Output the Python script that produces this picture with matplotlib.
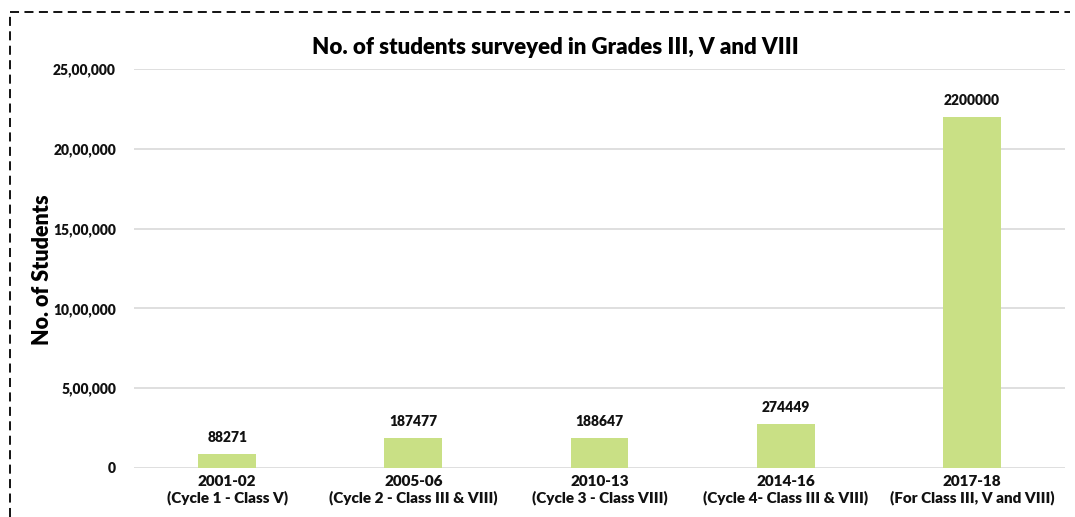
import matplotlib
matplotlib.use("Agg")
import matplotlib.pyplot as plt
from matplotlib.lines import Line2D
from matplotlib.ticker import FuncFormatter

plt.rcParams['font.family'] = ['Lato', 'DejaVu Sans']
plt.rcParams['font.weight'] = 'heavy'

# Data
periods = ["2001-02", "2005-06", "2010-13", "2014-16", "2017-18"]
cycles = ["(Cycle 1 - Class V)", "(Cycle 2 - Class III & VIII)",
          "(Cycle 3 - Class VIII)", "(Cycle 4- Class III & VIII)",
          "(For Class III, V and VIII)"]
students = [88271, 187477, 188647, 274449, 2200000]
yticks = [0, 500000, 1000000, 1500000, 2000000, 2500000]


def indian_format(v, pos=None):
    v = int(round(v))
    s = str(v)
    if len(s) <= 3:
        return s
    last3 = s[-3:]
    rest = s[:-3]
    groups = []
    while len(rest) > 2:
        groups.insert(0, rest[-2:])
        rest = rest[:-2]
    if rest:
        groups.insert(0, rest)
    return ",".join(groups + [last3])


fig = plt.figure(figsize=(10.75, 5.17), dpi=100)
ax = fig.add_axes([0.1247, 0.0948, 0.866, 0.7717])

labels = [p + "\n" + c for p, c in zip(periods, cycles)]
x = range(len(students))
bars = ax.bar(x, students, width=0.31, color="#C9E085", zorder=3)

for b, v in zip(bars, students):
    ax.annotate(str(v), (b.get_x() + b.get_width() / 2, v),
                xytext=(0, 7), textcoords="offset points",
                ha="center", va="bottom", fontsize=10, fontweight="heavy",
                color="#111111")

ax.set_xlim(-0.5, len(students) - 0.5)
ax.set_ylim(0, 2500000)
ax.set_yticks(yticks)
ax.yaxis.set_major_formatter(FuncFormatter(indian_format))
ax.set_xticks(list(x))
ax.set_xticklabels(labels, fontsize=11, fontweight="heavy", color="#111111",
                   linespacing=1.2)
ax.tick_params(axis="y", labelsize=10, labelcolor="#111111", length=0, pad=13)
ax.tick_params(axis="x", length=0, pad=5)
ax.grid(axis="y", color="#d9d9d9", linewidth=1.2, zorder=0)
for s in ax.spines.values():
    s.set_visible(False)

ax.set_ylabel("No. of Students", fontsize=15.5, fontweight="heavy")
ax.yaxis.set_label_coords(53 / 1075, 1 - 270 / 517, transform=fig.transFigure)

fig.text(555 / 1075, 1 - 47 / 517,
         "No. of students surveyed in Grades III, V and VIII",
         ha="center", va="center", fontsize=16, fontweight="heavy")

# dashed frame (top and left)
fig.add_artist(Line2D([0.0093, 0.995], [0.977, 0.977], transform=fig.transFigure,
                      color="black", linestyle=(0, (5, 3)), linewidth=1.3))
fig.add_artist(Line2D([0.0093, 0.0093], [0.0, 0.977], transform=fig.transFigure,
                      color="black", linestyle=(0, (5, 3)), linewidth=1.3))

fig.savefig("out.png", dpi=100)
